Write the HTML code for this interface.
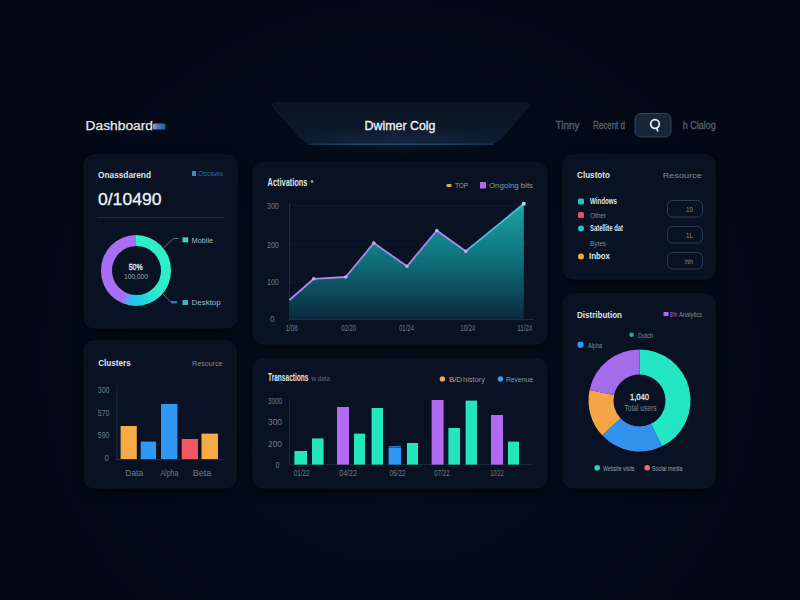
<!DOCTYPE html>
<html><head><meta charset="utf-8">
<style>
*{margin:0;padding:0;box-sizing:border-box}
html,body{width:800px;height:600px;overflow:hidden;background:#040913}
body{position:relative;font-family:"Liberation Sans",sans-serif}
svg{position:absolute;left:0;top:0}
text{font-family:"Liberation Sans",sans-serif}
.d1{position:absolute;left:100.8px;top:235.2px;width:70.4px;height:70.4px;border-radius:50%;
background:conic-gradient(from 0deg,#30eec8 0deg,#30ecc8 135deg,#22d8dc 160deg,#1ec8f2 185deg,#5aa4f2 195deg,#a86ef4 205deg,#aa6ef4 360deg)}
.d1h{position:absolute;left:111.5px;top:245.9px;width:49px;height:49px;border-radius:50%;background:#081222}
</style></head><body>
<svg width="800" height="600" viewBox="0 0 800 600">
<defs>
  <radialGradient id="bgg" cx="400" cy="360" r="480" gradientUnits="userSpaceOnUse">
    <stop offset="0" stop-color="#050d1b"/>
    <stop offset="0.6" stop-color="#030a17"/>
    <stop offset="1" stop-color="#020612"/>
  </radialGradient>
  <linearGradient id="tabg" x1="0" y1="0" x2="0" y2="1">
    <stop offset="0" stop-color="#0a1420"/>
    <stop offset="1" stop-color="#0e1c30"/>
  </linearGradient>
  <linearGradient id="tabline" x1="308" y1="0" x2="494" y2="0" gradientUnits="userSpaceOnUse">
    <stop offset="0" stop-color="#182c46"/>
    <stop offset="0.3" stop-color="#284a70"/>
    <stop offset="0.7" stop-color="#244468"/>
    <stop offset="1" stop-color="#182c46"/>
  </linearGradient>
  <linearGradient id="area" x1="0" y1="203" x2="0" y2="319" gradientUnits="userSpaceOnUse">
    <stop offset="0" stop-color="#1ba6a2"/>
    <stop offset="0.5" stop-color="#0f6f7a"/>
    <stop offset="1" stop-color="#0a2a3e"/>
  </linearGradient>
  <linearGradient id="blob" x1="153" y1="0" x2="166" y2="0" gradientUnits="userSpaceOnUse">
    <stop offset="0" stop-color="#8aa8d0"/>
    <stop offset="0.4" stop-color="#4a78b0"/>
    <stop offset="1" stop-color="#2f5a94"/>
  </linearGradient>
  <radialGradient id="tabglow">
    <stop offset="0" stop-color="#1a3250" stop-opacity="0.45"/>
    <stop offset="1" stop-color="#1a3250" stop-opacity="0"/>
  </radialGradient>
  <filter id="cardsh" x="-20%" y="-20%" width="140%" height="140%" color-interpolation-filters="sRGB">
    <feGaussianBlur in="SourceAlpha" stdDeviation="5" result="sb"/>
    <feOffset in="sb" dy="2" result="so"/>
    <feFlood flood-color="#000208" flood-opacity="0.8"/>
    <feComposite in2="so" operator="in" result="sh"/>
    <feGaussianBlur in="SourceGraphic" stdDeviation="0.6" result="sg"/>
    <feMerge><feMergeNode in="sh"/><feMergeNode in="sg"/></feMerge>
  </filter>
  <filter id="blur1" color-interpolation-filters="sRGB"><feGaussianBlur stdDeviation="0.6"/></filter>
</defs>

<rect width="800" height="600" fill="url(#bgg)"/>

<!-- cards -->
<g fill="#081222" stroke="#0c1828" stroke-width="1" filter="url(#cardsh)">
  <rect x="84" y="155" width="153" height="173" rx="10"/>
  <rect x="253" y="163" width="294" height="181" rx="10"/>
  <rect x="563" y="155" width="152" height="124" rx="10"/>
  <rect x="84" y="341" width="152" height="147" rx="10"/>
  <rect x="253" y="359" width="294" height="129" rx="10"/>
  <rect x="563" y="294" width="152" height="194" rx="10"/>
</g>

<!-- header -->
<rect x="153" y="123.5" width="12.5" height="6" rx="1.5" fill="url(#blob)" filter="url(#blur1)"/>
<path d="M276 103 L525 103 Q531 103 527 108 L505 134 Q497 144.5 485 144.5 L317 144.5 Q305 144.5 297 134 L274 108 Q270 103 276 103 Z" fill="url(#tabg)" stroke="#15253a" stroke-width="0.8"/>
<ellipse cx="400" cy="140" rx="95" ry="14" fill="url(#tabglow)"/>
<path d="M308 144.3 L494 144.3" stroke="url(#tabline)" stroke-width="1.6"/>
<rect x="635" y="113.5" width="36" height="23.5" rx="6" fill="#182639" stroke="#34465c" stroke-width="1"/>
<circle cx="655" cy="124" r="4.3" fill="none" stroke="#eef2f6" stroke-width="1.7"/>
<path d="M656.5 128 L658 131.5" stroke="#eef2f6" stroke-width="1.6"/>

<!-- card1 -->
<rect x="192" y="171" width="4" height="5" fill="#3a8ac8"/>
<line x1="97" y1="217.5" x2="224" y2="217.5" stroke="#1e2c3c" stroke-width="1"/>
<path d="M163.7 247.5 L173.5 238.5 L179 238.5" fill="none" stroke="#4f7f88" stroke-width="0.9"/>
<rect x="182.5" y="237.3" width="5.7" height="5" fill="#36d8b8"/>
<path d="M163 294 L171 302.2" fill="none" stroke="#3f7ca0" stroke-width="0.9"/>
<rect x="171" y="301" width="6" height="2.5" fill="#2b70b8"/>
<rect x="182.5" y="300" width="5.5" height="5" fill="#3fb0c0"/>

<!-- card2 area chart -->
<circle cx="312" cy="181.4" r="1.4" fill="#8896a6"/>
<rect x="446.5" y="184" width="5" height="3" rx="1" fill="#e8a050"/>
<rect x="480" y="182" width="6" height="6.5" fill="#b66ae6"/>
<g stroke="#1c2a3a" stroke-width="0.7" stroke-dasharray="2 2">
  <line x1="290" y1="205.5" x2="533" y2="205.5"/>
  <line x1="290" y1="243.7" x2="533" y2="243.7"/>
  <line x1="290" y1="282" x2="533" y2="282"/>
</g>
<line x1="289.5" y1="203" x2="289.5" y2="320" stroke="#1e2c3c" stroke-width="1"/>
<line x1="289" y1="319.5" x2="534" y2="319.5" stroke="#1e2c3c" stroke-width="1"/>
<path d="M289.5 300 L313.8 278.8 L345.8 277 L373.8 243 L407 266.3 L436.8 230.5 L465.8 251.3 L523.8 203.8 L523.8 319 L289.5 319 Z" fill="url(#area)"/>
<path d="M289.5 300 L313.8 278.8 L345.8 277 L373.8 243 L407 266.3 L436.8 230.5 L465.8 251.3" fill="none" stroke="#ac86f2" stroke-width="1.8" stroke-linejoin="round"/>
<path d="M465.8 251.3 L523.8 203.8" fill="none" stroke="#4cb8e6" stroke-width="1.8"/>
<g fill="#c9a8f7">
  <circle cx="313.8" cy="278.8" r="1.8"/><circle cx="345.8" cy="277" r="1.8"/>
  <circle cx="373.8" cy="243" r="1.8"/><circle cx="407" cy="266.3" r="1.8"/>
  <circle cx="436.8" cy="230.5" r="1.8"/><circle cx="465.8" cy="251.3" r="1.8"/>
</g>
<circle cx="523.8" cy="203.8" r="2" fill="#a8e4f4"/>

<!-- card3 -->
<rect x="578" y="198.5" width="6" height="6" rx="1.5" fill="#2cc0b6"/>
<rect x="578" y="212" width="6" height="6" rx="1.5" fill="#e0507a"/>
<circle cx="581" cy="228.4" r="3" fill="#2cc0c8"/>
<circle cx="581" cy="256.4" r="3" fill="#f0a848"/>
<g fill="none" stroke="#2c3c50" stroke-width="1">
  <rect x="667.5" y="200.5" width="35" height="16.5" rx="5"/>
  <rect x="667.5" y="226.5" width="35" height="16.5" rx="5"/>
  <rect x="667.5" y="252.5" width="35" height="16.5" rx="5"/>
</g>

<!-- card4 bar chart -->
<line x1="117" y1="385" x2="117" y2="460" stroke="#1e2c3c" stroke-width="1"/>
<line x1="116" y1="459.5" x2="223" y2="459.5" stroke="#1e2c3c" stroke-width="1"/>
<rect x="120.6" y="426" width="16.2" height="33" fill="#f8a948"/>
<rect x="140.7" y="441.6" width="15.3" height="17.4" fill="#2f98f6"/>
<rect x="161" y="404" width="16.4" height="55" fill="#2f98f6"/>
<rect x="181.7" y="439" width="16.3" height="20" fill="#f25862"/>
<rect x="201.5" y="433.6" width="16.5" height="25.4" fill="#f8a948"/>

<!-- card5 bar chart -->
<circle cx="442.4" cy="379" r="2.7" fill="#f0a060"/>
<circle cx="500.4" cy="379" r="2.7" fill="#3a9af0"/>
<line x1="289.4" y1="399" x2="289.4" y2="465" stroke="#1e2c3c" stroke-width="1"/>
<line x1="289" y1="464.6" x2="533" y2="464.6" stroke="#1e2c3c" stroke-width="1"/>
<g fill="#24e6bc">
  <rect x="294.4" y="451" width="12.6" height="13.6"/>
  <rect x="312" y="438.4" width="11.6" height="26.2"/>
  <rect x="354" y="433.6" width="11" height="31"/>
  <rect x="371.6" y="408" width="11.4" height="56.6"/>
  <rect x="407" y="443" width="11" height="21.6"/>
  <rect x="448.4" y="428" width="11.6" height="36.6"/>
  <rect x="465.6" y="400.6" width="11.4" height="64"/>
  <rect x="508" y="441.6" width="11" height="23"/>
</g>
<g fill="#b46af0">
  <rect x="337" y="407" width="12" height="57.6"/>
  <rect x="431.6" y="400" width="12" height="64.6"/>
  <rect x="491" y="415" width="12" height="49.6"/>
</g>
<rect x="388.6" y="447.5" width="12.4" height="17.1" fill="#2f98f6"/><line x1="389" y1="446.8" x2="401" y2="446.3" stroke="#5a9ad0" stroke-width="0.8"/>

<!-- card6 donut -->
<rect x="663.5" y="312" width="5" height="4" fill="#b068ec"/>
<circle cx="631.6" cy="334.8" r="2.3" fill="#2aa888"/>
<rect x="577.5" y="341.7" width="6" height="6" rx="2" fill="#3a9af0"/>
<g stroke-width="25" fill="none">
<path d="M639.50 362.00 A38.5 38.5 0 0 1 656.38 435.10" stroke="#25e6c4"/><path d="M656.38 435.10 A38.5 38.5 0 0 1 611.34 426.76" stroke="#3492ef"/><path d="M611.34 426.76 A38.5 38.5 0 0 1 601.84 392.50" stroke="#f6a545"/><path d="M601.84 392.50 A38.5 38.5 0 0 1 639.50 362.00" stroke="#a46ceb"/>
</g>
<circle cx="597.2" cy="467.7" r="2.8" fill="#2ad8c2"/>
<circle cx="647.2" cy="467.7" r="2.8" fill="#ec6a78"/>
</svg>
<div class="d1"></div><div class="d1h"></div>
<svg width="800" height="600" viewBox="0 0 800 600">
<text x="85.6" y="129.5" font-size="12.5" fill="#e4eaf0" textLength="67.4" lengthAdjust="spacingAndGlyphs" stroke="#e4eaf0" stroke-width="0.25">Dashboard</text>
<text x="364.6" y="129.8" font-size="13.5" fill="#eef2f7" textLength="70.8" lengthAdjust="spacingAndGlyphs" stroke="#eef2f7" stroke-width="0.35">Dwimer Colg</text>
<text x="555.5" y="128.5" font-size="10" fill="#56626f" textLength="24.0" lengthAdjust="spacingAndGlyphs" stroke="#56626f" stroke-width="0.3">Tinny</text>
<text x="593" y="128.5" font-size="10" fill="#56626f" textLength="32.0" lengthAdjust="spacingAndGlyphs" stroke="#56626f" stroke-width="0.3">Recent d</text>
<text x="682.8" y="129" font-size="10" fill="#56626f" textLength="33.1" lengthAdjust="spacingAndGlyphs" stroke="#56626f" stroke-width="0.3">h Cialog</text>
<text x="98" y="178" font-size="9.5" fill="#dde4ec" textLength="53.0" lengthAdjust="spacingAndGlyphs" font-weight="bold">Onassdarend</text>
<text x="198.2" y="176.2" font-size="7" fill="#2a6aa8" textLength="25.0" lengthAdjust="spacingAndGlyphs">Ososwo</text>
<text x="98" y="205.2" font-size="16.5" fill="#eef2f6" textLength="63.4" lengthAdjust="spacingAndGlyphs" stroke="#eef2f6" stroke-width="0.3">0/10490</text>
<text x="128.7" y="270.2" font-size="8.5" fill="#e6ecf2" textLength="14.0" lengthAdjust="spacingAndGlyphs" stroke="#e6ecf2" stroke-width="0.3">50%</text>
<text x="124" y="278.7" font-size="8" fill="#82b0ac" textLength="24.0" lengthAdjust="spacingAndGlyphs">100,000</text>
<text x="191.5" y="242.6" font-size="7" fill="#aab6c2" textLength="21.7" lengthAdjust="spacingAndGlyphs">Mobile</text>
<text x="191.5" y="305" font-size="7" fill="#aab6c2" textLength="29.2" lengthAdjust="spacingAndGlyphs">Desktop</text>
<text x="267.6" y="185.5" font-size="10" fill="#dde4ec" textLength="39.8" lengthAdjust="spacingAndGlyphs" font-weight="bold">Activations</text>
<text x="455" y="188" font-size="7.5" fill="#c89060" textLength="13.0" lengthAdjust="spacingAndGlyphs">TOP</text>
<text x="489" y="188" font-size="7" fill="#8d99a8" textLength="44.0" lengthAdjust="spacingAndGlyphs">Ongoing bits</text>
<text x="267" y="209.3" font-size="9" fill="#6e7a8a" textLength="11.8" lengthAdjust="spacingAndGlyphs">300</text>
<text x="267" y="247.5" font-size="9" fill="#6e7a8a" textLength="11.8" lengthAdjust="spacingAndGlyphs">200</text>
<text x="267" y="284.8" font-size="9" fill="#6e7a8a" textLength="11.8" lengthAdjust="spacingAndGlyphs">100</text>
<text x="270" y="322" font-size="9" fill="#6e7a8a" textLength="4.5" lengthAdjust="spacingAndGlyphs">0</text>
<text x="285.7" y="330.5" font-size="8.5" fill="#6e7a8a" textLength="12.0" lengthAdjust="spacingAndGlyphs">1/08</text>
<text x="341.2" y="330.5" font-size="8.5" fill="#6e7a8a" textLength="15.0" lengthAdjust="spacingAndGlyphs">02/20</text>
<text x="399.0" y="330.5" font-size="8.5" fill="#6e7a8a" textLength="15.0" lengthAdjust="spacingAndGlyphs">01/24</text>
<text x="460.3" y="330.5" font-size="8.5" fill="#6e7a8a" textLength="15.0" lengthAdjust="spacingAndGlyphs">10/24</text>
<text x="517.3" y="330.5" font-size="8.5" fill="#6e7a8a" textLength="15.0" lengthAdjust="spacingAndGlyphs">11/24</text>
<text x="577" y="178.2" font-size="9.5" fill="#dde4ec" textLength="33.0" lengthAdjust="spacingAndGlyphs" font-weight="bold">Clustoto</text>
<text x="662.7" y="178.3" font-size="8" fill="#7f8c9a" textLength="39.3" lengthAdjust="spacingAndGlyphs">Resource</text>
<text x="590" y="204" font-size="8.2" fill="#dfe6ee" textLength="27.0" lengthAdjust="spacingAndGlyphs" font-weight="bold">Windows</text>
<text x="590" y="217.5" font-size="8" fill="#7f8c9a" textLength="16.0" lengthAdjust="spacingAndGlyphs">Other</text>
<text x="590" y="231.2" font-size="8.2" fill="#dfe6ee" textLength="33.0" lengthAdjust="spacingAndGlyphs" font-weight="bold">Satellite dat</text>
<text x="590" y="245.5" font-size="8" fill="#7f8c9a" textLength="16.0" lengthAdjust="spacingAndGlyphs">Bytes</text>
<text x="589" y="259.3" font-size="8.2" fill="#dfe6ee" textLength="21.0" lengthAdjust="spacingAndGlyphs" font-weight="bold">Inbox</text>
<text x="686" y="211.5" font-size="7" fill="#7f8c9a" textLength="7.0" lengthAdjust="spacingAndGlyphs">10</text>
<text x="686" y="237.5" font-size="7" fill="#7f8c9a" textLength="7.0" lengthAdjust="spacingAndGlyphs">1L</text>
<text x="685" y="263.5" font-size="7" fill="#7f8c9a" textLength="8.0" lengthAdjust="spacingAndGlyphs">hh</text>
<text x="98.2" y="365.6" font-size="9.8" fill="#dde4ec" textLength="32.6" lengthAdjust="spacingAndGlyphs" font-weight="bold">Clusters</text>
<text x="192" y="366" font-size="7" fill="#7f8c9a" textLength="30.8" lengthAdjust="spacingAndGlyphs">Resource</text>
<text x="97.8" y="392.5" font-size="9" fill="#6e7a8a" textLength="11.7" lengthAdjust="spacingAndGlyphs">300</text>
<text x="97.8" y="415.5" font-size="9" fill="#6e7a8a" textLength="11.7" lengthAdjust="spacingAndGlyphs">570</text>
<text x="97.8" y="437.5" font-size="9" fill="#6e7a8a" textLength="11.7" lengthAdjust="spacingAndGlyphs">590</text>
<text x="104.5" y="460.5" font-size="9" fill="#6e7a8a" textLength="4.2" lengthAdjust="spacingAndGlyphs">0</text>
<text x="125.3" y="475.5" font-size="8.5" fill="#6e7a8a" textLength="17.9" lengthAdjust="spacingAndGlyphs">Data</text>
<text x="160.4" y="475.5" font-size="8.5" fill="#6e7a8a" textLength="18.1" lengthAdjust="spacingAndGlyphs">Alpha</text>
<text x="192.7" y="475.5" font-size="8.5" fill="#6e7a8a" textLength="18.6" lengthAdjust="spacingAndGlyphs">Beta</text>
<text x="268" y="381.2" font-size="10" fill="#dde4ec" textLength="40.5" lengthAdjust="spacingAndGlyphs" font-weight="bold">Transactions</text>
<text x="311.5" y="380.8" font-size="6.5" fill="#5f6d80" textLength="18.5" lengthAdjust="spacingAndGlyphs">w data</text>
<text x="449" y="382" font-size="7" fill="#e89a60" textLength="13.0" lengthAdjust="spacingAndGlyphs">B/D</text>
<text x="463" y="382" font-size="7" fill="#8d99a8" textLength="22.0" lengthAdjust="spacingAndGlyphs">history</text>
<text x="506" y="382" font-size="7" fill="#8d99a8" textLength="27.0" lengthAdjust="spacingAndGlyphs">Revenue</text>
<text x="268" y="404" font-size="9" fill="#6e7a8a" textLength="14.0" lengthAdjust="spacingAndGlyphs">3000</text>
<text x="268" y="425.3" font-size="9" fill="#6e7a8a" textLength="14.0" lengthAdjust="spacingAndGlyphs">300</text>
<text x="268" y="447.3" font-size="9" fill="#6e7a8a" textLength="14.0" lengthAdjust="spacingAndGlyphs">200</text>
<text x="275.5" y="468" font-size="9" fill="#6e7a8a" textLength="4.0" lengthAdjust="spacingAndGlyphs">0</text>
<text x="293.8" y="476.3" font-size="8.5" fill="#6e7a8a" textLength="15.7" lengthAdjust="spacingAndGlyphs">01/22</text>
<text x="339.3" y="476.3" font-size="8.5" fill="#6e7a8a" textLength="17.5" lengthAdjust="spacingAndGlyphs">04/22</text>
<text x="389.5" y="476.3" font-size="8.5" fill="#6e7a8a" textLength="16.0" lengthAdjust="spacingAndGlyphs">06/22</text>
<text x="434" y="476.3" font-size="8.5" fill="#6e7a8a" textLength="15.7" lengthAdjust="spacingAndGlyphs">07/22</text>
<text x="490.2" y="476.3" font-size="8.5" fill="#6e7a8a" textLength="13.5" lengthAdjust="spacingAndGlyphs">10/22</text>
<text x="577" y="317.5" font-size="9.5" fill="#dde4ec" textLength="45.0" lengthAdjust="spacingAndGlyphs" font-weight="bold">Distribution</text>
<text x="670" y="317" font-size="7" fill="#b070e0" textLength="7.0" lengthAdjust="spacingAndGlyphs">8%</text>
<text x="679" y="317" font-size="7" fill="#7f8c9a" textLength="23.0" lengthAdjust="spacingAndGlyphs">Analytics</text>
<text x="638" y="337.5" font-size="7" fill="#7f8c9a" textLength="15.0" lengthAdjust="spacingAndGlyphs">Dutch</text>
<text x="588" y="347.5" font-size="7" fill="#7f8c9a" textLength="14.0" lengthAdjust="spacingAndGlyphs">Alpha</text>
<text x="630" y="400.3" font-size="8.8" fill="#e6ecf2" textLength="19.0" lengthAdjust="spacingAndGlyphs" stroke="#e6ecf2" stroke-width="0.3">1,040</text>
<text x="624.4" y="411.2" font-size="8.5" fill="#7a8898" textLength="32.2" lengthAdjust="spacingAndGlyphs">Total users</text>
<text x="603" y="470.6" font-size="8" fill="#98a4b2" textLength="31.4" lengthAdjust="spacingAndGlyphs">Website visits</text>
<text x="652" y="470.6" font-size="8" fill="#98a4b2" textLength="30.5" lengthAdjust="spacingAndGlyphs">Social media</text>
</svg>
</body></html>
